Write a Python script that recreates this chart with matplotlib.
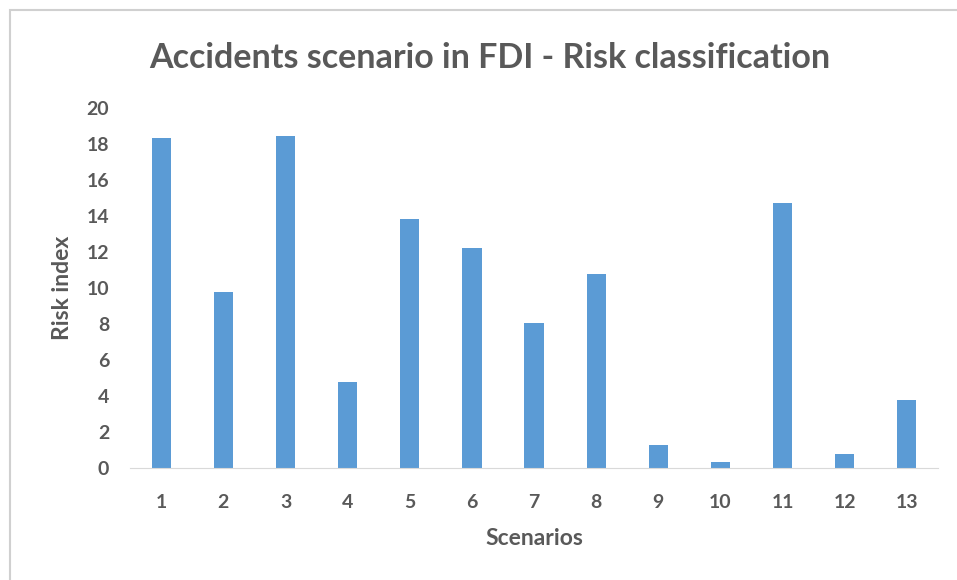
import matplotlib.pyplot as plt
from matplotlib.patches import Rectangle

# datos
scenarios = ['1', '2', '3', '4', '5', '6', '7', '8', '9', '10', '11', '12', '13']
risk_index = [18.34, 9.77, 18.43, 4.77, 13.85, 12.2, 8.06, 10.79, 1.26, 0.35, 14.7, 0.78, 3.78]

gris = '#595959'
plt.rcParams['font.family'] = ['Lato', 'DejaVu Sans']

fig = plt.figure(figsize=(9.57, 5.8), dpi=100)
ax = fig.add_axes([0.136, 0.193, 0.844, 0.621])

# marco gris alrededor del grafico
fig.patches.append(Rectangle((10 / 957, -0.05), 1.1, 1 - 10 / 580 + 0.05, transform=fig.transFigure,
                             fill=False, edgecolor='#d0d0d0', linewidth=1.5))

x = range(len(scenarios))
ax.bar(x, risk_index, width=0.31, color='#5b9bd5')

ax.set_xlim(-0.5, len(scenarios) - 0.5)
ax.set_ylim(0, 20)
ax.set_yticks(range(0, 21, 2))
ax.set_xticks(list(x))
ax.set_xticklabels(scenarios)

for s in ['top', 'right', 'left']:
    ax.spines[s].set_visible(False)
ax.spines['bottom'].set_color('#d9d9d9')
ax.tick_params(length=0, labelsize=14, labelcolor=gris)
ax.tick_params(axis='x', pad=19)
ax.tick_params(axis='y', pad=15)
for lab in ax.get_xticklabels() + ax.get_yticklabels():
    lab.set_fontweight('bold')

ax.set_xlabel('Scenarios', fontsize=16.5, fontweight='bold', color=gris, labelpad=12)
ax.set_ylabel('Risk index', fontsize=16.5, fontweight='bold', color=gris, labelpad=10)
fig.text(0.512, 0.9, 'Accidents scenario in FDI - Risk classification', ha='center', va='center',
         fontsize=24.5, fontweight='bold', color=gris)

plt.savefig('out.png')
